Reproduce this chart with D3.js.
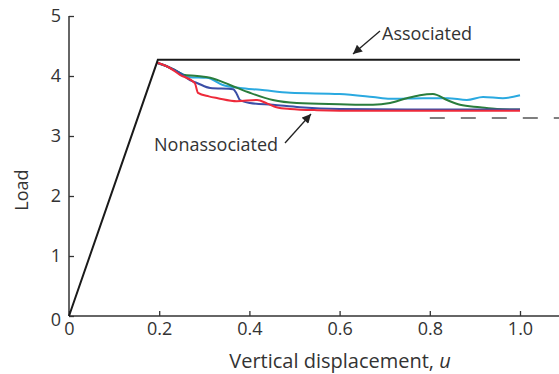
<!DOCTYPE html>
<html>
<head>
<meta charset="utf-8">
<script src="https://d3js.org/d3.v7.min.js"></script>
<style>
  body { margin: 0; background: #fff; }
  text { font-family: "Open Sans", sans-serif; fill: #333; }
</style>
</head>
<body>
<svg width="559" height="374"></svg>
<script>
// tick values
var xTicks = [0, 0.2, 0.4, 0.6, 0.8, 1.0];
var yTicks = [0, 1, 2, 3, 4, 5];

// associated (elastic-perfectly plastic) curve
var uAssoc = [0, 0.197, 1.0];
var loadAssoc = [0, 4.27, 4.27];

// nonassociated runs (post-peak part; elastic branch shared with the black line)
var uRed = [0.195, 0.22, 0.246, 0.279, 0.286, 0.31, 0.33, 0.372, 0.417, 0.44, 0.46, 0.49, 0.55, 0.65, 0.8, 0.9, 1.0];
var loadRed = [4.22, 4.15, 4.02, 3.88, 3.72, 3.66, 3.63, 3.58, 3.6, 3.54, 3.48, 3.45, 3.43, 3.42, 3.42, 3.42, 3.42];

var uBlue = [0.195, 0.22, 0.246, 0.268, 0.285, 0.313, 0.364, 0.372, 0.379, 0.401, 0.452, 0.512, 0.6, 0.75, 0.9, 1.0];
var loadBlue = [4.22, 4.15, 4.05, 3.93, 3.88, 3.8, 3.78, 3.7, 3.6, 3.55, 3.52, 3.48, 3.45, 3.44, 3.44, 3.44];

var uGreen = [0.195, 0.22, 0.242, 0.253, 0.284, 0.313, 0.357, 0.401, 0.452, 0.505, 0.6, 0.674, 0.712, 0.749, 0.778, 0.807, 0.838, 0.867, 0.911, 0.949, 1.0];
var loadGreen = [4.22, 4.15, 4.07, 4.02, 4.0, 3.97, 3.85, 3.72, 3.6, 3.55, 3.53, 3.52, 3.55, 3.63, 3.68, 3.7, 3.6, 3.52, 3.48, 3.45, 3.44];

var uCyan = [0.195, 0.22, 0.246, 0.268, 0.306, 0.341, 0.379, 0.424, 0.49, 0.6, 0.674, 0.712, 0.785, 0.84, 0.882, 0.918, 0.962, 1.0];
var loadCyan = [4.22, 4.15, 4.05, 3.98, 3.97, 3.85, 3.8, 3.77, 3.72, 3.7, 3.65, 3.62, 3.63, 3.63, 3.6, 3.65, 3.63, 3.68];

// limit load (dashed)
var uLimit = [0.8, 1.09];
var loadLimit = [3.3, 3.3];

var svg = d3.select("svg");

var x = d3.scaleLinear().domain([0, 1]).range([69, 520]);
var y = d3.scaleLinear().domain([0, 5]).range([316, 16]);

function zip(us, ls) {
    return us.map(function(u, i) { return [u, ls[i]]; });
}

var straight = d3.line()
    .x(function(d) { return x(d[0]); })
    .y(function(d) { return y(d[1]); });
var smooth = d3.line()
    .x(function(d) { return x(d[0]); })
    .y(function(d) { return y(d[1]); })
    .curve(d3.curveMonotoneX);

// axes
var xAxis = d3.axisBottom(x)
    .tickValues(xTicks)
    .tickSizeInner(-5)
    .tickSizeOuter(0)
    .tickPadding(6)
    .tickFormat(function(d) { return d === 0 ? "0" : d3.format(".1f")(d); });

var yAxis = d3.axisLeft(y)
    .tickValues(yTicks)
    .tickSizeInner(-5)
    .tickSizeOuter(0)
    .tickPadding(8)
    .tickFormat(d3.format("d"));

var gx = svg.append("g").attr("transform", "translate(0," + y(0) + ")").call(xAxis);
var gy = svg.append("g").attr("transform", "translate(" + x(0) + ",0)").call(yAxis);

[gx, gy].forEach(function(g) {
    g.select(".domain").remove();
    g.selectAll(".tick line").attr("stroke", "#333").attr("stroke-width", 1.3);
    g.selectAll(".tick text")
        .style("font-family", "'Open Sans', sans-serif")
        .style("font-size", "18px")
        .attr("fill", "#333");
});
gy.selectAll(".tick text").filter(function(d) { return d === 0; }).attr("dy", "0.55em");

// axis lines
svg.append("line")
    .attr("x1", x(0)).attr("x2", 559)
    .attr("y1", y(0)).attr("y2", y(0))
    .attr("stroke", "#333").attr("stroke-width", 1.5);
svg.append("line")
    .attr("x1", x(0)).attr("x2", x(0))
    .attr("y1", y(0)).attr("y2", y(5))
    .attr("stroke", "#333").attr("stroke-width", 1.5);

// dashed limit line
svg.append("path")
    .attr("d", straight(zip(uLimit, loadLimit)))
    .attr("fill", "none")
    .attr("stroke", "#555")
    .attr("stroke-width", 1.5)
    .attr("stroke-dasharray", "15,16");

// nonassociated curves
var series = [
    { u: uCyan, load: loadCyan, color: "#2aa9e0" },
    { u: uGreen, load: loadGreen, color: "#2a7d3c" },
    { u: uBlue, load: loadBlue, color: "#3b4ea6" },
    { u: uRed, load: loadRed, color: "#ee2a3a" }
];
series.forEach(function(s) {
    svg.append("path")
        .attr("d", smooth(zip(s.u, s.load)))
        .attr("fill", "none")
        .attr("stroke", s.color)
        .attr("stroke-width", 2)
        .attr("stroke-linejoin", "round");
});

// associated curve
svg.append("path")
    .attr("d", straight(zip(uAssoc, loadAssoc)))
    .attr("fill", "none")
    .attr("stroke", "#1a1a1a")
    .attr("stroke-width", 2);

// annotations
var defs = svg.append("defs");
defs.append("marker")
    .attr("id", "arrow")
    .attr("viewBox", "0 0 10 10")
    .attr("refX", 10).attr("refY", 5)
    .attr("markerWidth", 10).attr("markerHeight", 9)
    .attr("markerUnits", "userSpaceOnUse")
    .attr("orient", "auto")
    .append("path")
    .attr("d", "M0,0 L10,5 L0,10 Z")
    .attr("fill", "#222");

svg.append("line")
    .attr("x1", 380).attr("y1", 31)
    .attr("x2", 353).attr("y2", 54)
    .attr("stroke", "#222").attr("stroke-width", 1.3)
    .attr("marker-end", "url(#arrow)");
svg.append("text")
    .attr("x", 382).attr("y", 40)
    .style("font-size", "18px")
    .text("Associated");

svg.append("line")
    .attr("x1", 285).attr("y1", 143)
    .attr("x2", 311).attr("y2", 114)
    .attr("stroke", "#222").attr("stroke-width", 1.3)
    .attr("marker-end", "url(#arrow)");
svg.append("text")
    .attr("x", 154).attr("y", 151)
    .style("font-size", "18px")
    .text("Nonassociated");

// axis titles
svg.append("text")
    .attr("transform", "translate(28,190) rotate(-90)")
    .attr("text-anchor", "middle")
    .style("font-size", "18px")
    .text("Load");

var xt = svg.append("text")
    .attr("x", 340).attr("y", 368)
    .attr("text-anchor", "middle")
    .style("font-size", "20px");
xt.append("tspan").text("Vertical displacement, ");
xt.append("tspan").style("font-style", "italic").text("u");
</script>
</body>
</html>
